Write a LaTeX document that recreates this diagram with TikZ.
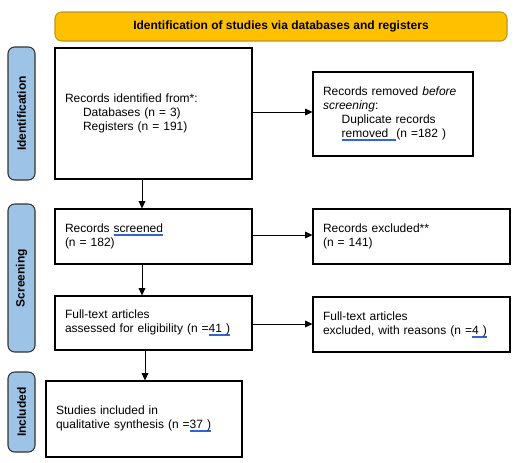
\documentclass[tikz,border=0pt]{standalone}
\usepackage{fontspec}
\setmainfont{Liberation Sans}
\usetikzlibrary{arrows.meta,positioning}
\definecolor{banner}{RGB}{255,192,0}
\definecolor{bannerline}{RGB}{196,150,20}
\definecolor{phase}{RGB}{157,195,230}
\definecolor{spell}{RGB}{50,100,215}
\newcommand\spellul[1]{\setbox0=\hbox{#1}\leavevmode\rlap{\color{spell}\raisebox{-1.4pt}{\rule{\wd0}{0.3pt}}\kern-\wd0\raisebox{-2.2pt}{\rule{\wd0}{0.3pt}}}\box0}
\tikzset{
  box/.style={draw, line width=0.8pt, rectangle, inner xsep=7.5pt, inner ysep=0pt,
              font=\fontsize{9}{10.5}\selectfont, align=left, text width=132.75pt},
  phasebar/.style={draw=black!80, fill=phase, line width=0.8pt, rounded corners=5pt, rotate=90,
              minimum height=20.25pt, inner sep=0pt, font=\fontsize{9}{10.5}\selectfont\bfseries},
  flow/.style={-{Triangle[length=5.5pt,width=5pt]}, line width=0.75pt},
}
\begin{document}
\begin{tikzpicture}[x=0.75pt,y=-0.75pt]
    \useasboundingbox (0,0) rectangle (527,462);
    \node[draw=bannerline, fill=banner, line width=0.8pt, rounded corners=5pt,
          minimum width=339pt, minimum height=21.75pt, inner sep=0pt,
          font=\fontsize{9}{10.5}\selectfont\bfseries] (head) at (281,26.5)
      {Identification of studies via databases and registers};
    \node[phasebar, minimum width=99.75pt] (pid)  at (21.5,113.5) {Identification};
    \node[phasebar, minimum width=111pt]   (pscr) at (21.5,278)   {Screening};
    \node[phasebar, minimum width=60pt]    (pinc) at (21.5,412)   {Included};
    \node[box, minimum height=98.25pt] (ident) at (153.5,113.5)
      {Records identified from*:\\\hspace*{13.5pt}Databases (n = 3)\\\hspace*{13.5pt}Registers (n = 191)};
    \node[box, text width=105pt, minimum height=63pt] (dupl) at (393,114)
      {Records removed \textit{before}\\\textit{screening}:\\\hspace*{14pt}Duplicate records\\\hspace*{14pt}\spellul{removed\ \ }(n =182 )};
    \node[box, minimum height=41.25pt] (scr)  at (153.5,236.5) {Records \spellul{screened}\\(n = 182)};
    \node[box, minimum height=41.25pt] (excl) at (411.5,236.5) {Records excluded**\\(n = 141)};
    \node[box, minimum height=40.5pt]  (full) at (153.5,323)   {Full-text articles\\assessed for eligibility (n =\spellul{41 )}};
    \node[box, minimum height=41.25pt] (fexc) at (411.5,324.5) {Full-text articles\\excluded, with reasons (n =\spellul{4 )}};
    \node[box, text width=132pt, minimum height=57pt] (incl) at (144,419)
      {Studies included in\\qualitative synthesis (n =\spellul{37 )}};
    \draw[flow] (ident.east |- 0,112) -- (dupl.west |- 0,112);
    \draw[flow] (ident.south -| 142,0) -- (scr.north -| 142,0);
    \draw[flow] (scr.east |- 0,235) -- (excl.west |- 0,235);
    \draw[flow] (scr.south -| 142,0) -- (full.north -| 142,0);
    \draw[flow] (full.east |- 0,324) -- (fexc.west |- 0,324);
    \draw[flow] (full.south -| 145,0) -- (incl.north -| 145,0);
  \end{tikzpicture}
\end{document}
